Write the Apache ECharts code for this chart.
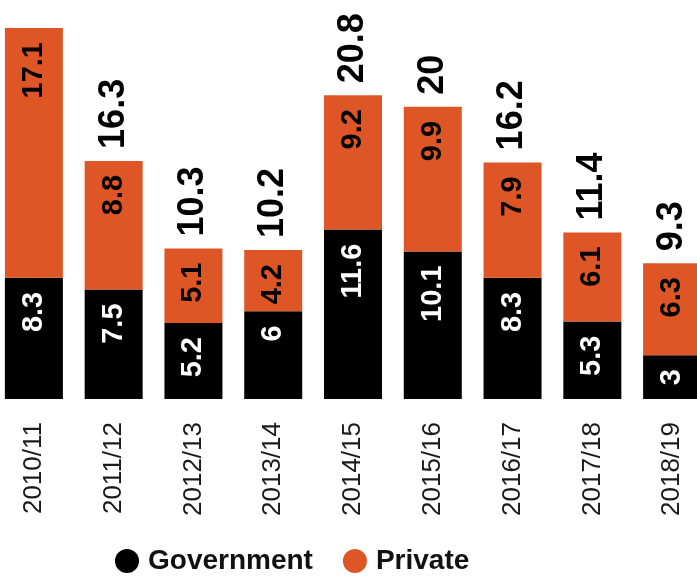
<!DOCTYPE html>
<html>
<head>
<meta charset="utf-8">
<script src="https://cdn.jsdelivr.net/npm/echarts@6/dist/echarts.min.js"></script>
<style>
  html, body { margin: 0; padding: 0; background: #ffffff; overflow: hidden; width: 697px; height: 578px; }
  /* plot area is a little wider than the page so the outer bars sit close to the edges */
  #chart { width: 718px; height: 578px; margin-left: -6px; }
</style>
</head>
<body>
<div id="chart"></div>
<script>
// Financial years on the category axis
const years = ['2010/11', '2011/12', '2012/13', '2013/14', '2014/15', '2015/16', '2016/17', '2017/18', '2018/19'];
// Spending by source
const government = [8.3, 7.5, 5.2, 6, 11.6, 10.1, 8.3, 5.3, 3];
const privateSpend = [17.1, 8.8, 5.1, 4.2, 9.2, 9.9, 7.9, 6.1, 6.3];

const totals = years.map((_, i) => Math.round((government[i] + privateSpend[i]) * 10) / 10);

const ORANGE = '#DE5526';
const FONT = '"Liberation Sans", Arial, sans-serif';

const chart = echarts.init(document.getElementById('chart'), null, { renderer: 'canvas' });

const insideLabel = (color) => ({
  show: true,
  position: 'insideTop',
  distance: 14,
  rotate: 90,
  align: 'right',
  verticalAlign: 'middle',
  color: color,
  fontFamily: FONT,
  fontWeight: 'bold',
  fontSize: 29,
  formatter: (p) => String(p.value)
});

chart.setOption({
  animation: false,
  backgroundColor: '#ffffff',
  grid: { left: 0, right: 0, top: 28, bottom: 179, containLabel: false },
  legend: {
    data: ['Government', 'Private'],
    left: 116,
    top: 542,
    icon: 'circle',
    itemWidth: 24,
    itemHeight: 24,
    itemGap: 30,
    textStyle: { fontFamily: FONT, fontWeight: 'bold', fontSize: 28, color: '#111', padding: [0, 0, 0, 4] }
  },
  xAxis: {
    type: 'category',
    data: years,
    axisLine: { show: false },
    axisTick: { show: false },
    axisLabel: {
      rotate: 90,
      margin: 23,
      fontFamily: FONT,
      fontSize: 26,
      color: '#1a1a1a'
    }
  },
  yAxis: {
    type: 'value',
    min: 0,
    max: 25.4,
    show: false,
    splitLine: { show: false }
  },
  series: [
    {
      name: 'Government',
      type: 'bar',
      stack: 'total',
      barWidth: 58,
      itemStyle: { color: '#000000' },
      label: insideLabel('#ffffff'),
      data: government
    },
    {
      name: 'Private',
      type: 'bar',
      stack: 'total',
      barWidth: 58,
      itemStyle: { color: ORANGE },
      label: insideLabel('#000000'),
      data: privateSpend
    },
    {
      // zero-height cap on each stack carrying the total above the bar
      name: 'Total',
      type: 'bar',
      stack: 'total',
      barWidth: 58,
      itemStyle: { color: 'transparent' },
      label: {
        show: true,
        position: 'top',
        distance: 12,
        rotate: 90,
        align: 'left',
        verticalAlign: 'middle',
        color: '#000000',
        fontFamily: FONT,
        fontWeight: 'bold',
        fontSize: 36,
        formatter: (p) => String(totals[p.dataIndex])
      },
      // the first bar reaches the top edge, leaving no room for its total
      data: totals.map((t, i) => ({ value: 0, label: { show: i > 0 } }))
    }
  ]
});
</script>
</body>
</html>
